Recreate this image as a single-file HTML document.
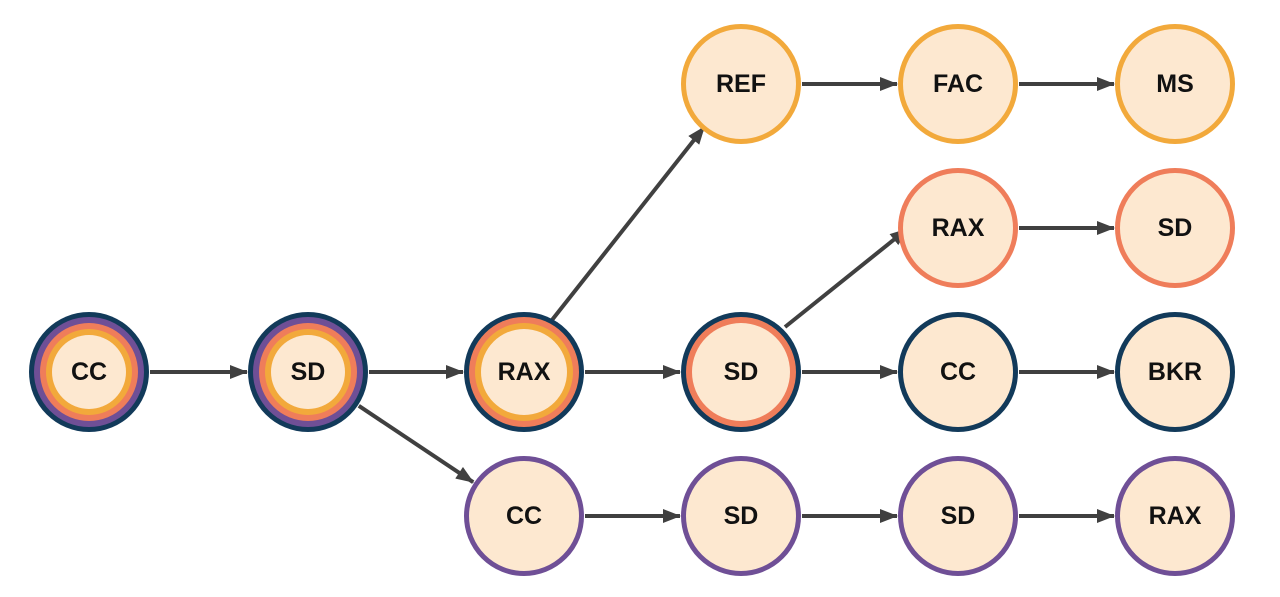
<!DOCTYPE html>
<html><head><meta charset="utf-8"><style>
html,body{margin:0;padding:0;background:#fff;width:1280px;height:597px;overflow:hidden}
text{font-family:"Liberation Sans",sans-serif;font-weight:bold;font-size:25px;fill:#111;text-anchor:middle;dominant-baseline:central}
</style></head><body>
<svg width="1280" height="597" viewBox="0 0 1280 597" xmlns="http://www.w3.org/2000/svg">
<defs>
<marker id="a" markerUnits="userSpaceOnUse" markerWidth="18" markerHeight="14" refX="17" refY="7" orient="auto">
<path d="M0,0 L18,7 L0,14 Z" fill="#404040"/>
</marker>
</defs>
<g stroke="#404040" stroke-width="4" marker-end="url(#a)">
<line x1="150" y1="372" x2="247" y2="372"/>
<line x1="369" y1="372" x2="463" y2="372"/>
<line x1="585" y1="372" x2="680" y2="372"/>
<line x1="802" y1="372" x2="897" y2="372"/>
<line x1="1019" y1="372" x2="1114" y2="372"/>
<line x1="802" y1="84" x2="897" y2="84"/>
<line x1="1019" y1="84" x2="1114" y2="84"/>
<line x1="1019" y1="228" x2="1114" y2="228"/>
<line x1="585" y1="516" x2="680" y2="516"/>
<line x1="802" y1="516" x2="897" y2="516"/>
<line x1="1019" y1="516" x2="1114" y2="516"/>
<line x1="358.8" y1="405.8" x2="473.2" y2="482.2"/>
<line x1="552" y1="320" x2="704.3" y2="127"/>
<line x1="785" y1="327" x2="907.2" y2="229"/>
</g>
<!-- multi ring nodes -->
<g>
<circle cx="89" cy="372" r="60" fill="#123a5a"/>
<circle cx="89" cy="372" r="55" fill="#6f4f96"/>
<circle cx="89" cy="372" r="49" fill="#ef7d5a"/>
<circle cx="89" cy="372" r="43" fill="#f2a93b"/>
<circle cx="89" cy="372" r="37" fill="#fde8d0"/>
<text x="89" y="372">CC</text>
<circle cx="308" cy="372" r="60" fill="#123a5a"/>
<circle cx="308" cy="372" r="55" fill="#6f4f96"/>
<circle cx="308" cy="372" r="49" fill="#ef7d5a"/>
<circle cx="308" cy="372" r="43" fill="#f2a93b"/>
<circle cx="308" cy="372" r="37" fill="#fde8d0"/>
<text x="308" y="372">SD</text>
<circle cx="524" cy="372" r="60" fill="#123a5a"/>
<circle cx="524" cy="372" r="55" fill="#ef7d5a"/>
<circle cx="524" cy="372" r="49" fill="#f2a93b"/>
<circle cx="524" cy="372" r="43" fill="#fde8d0"/>
<text x="524" y="372">RAX</text>
<circle cx="741" cy="372" r="60" fill="#123a5a"/>
<circle cx="741" cy="372" r="55" fill="#ef7d5a"/>
<circle cx="741" cy="372" r="49" fill="#fde8d0"/>
<text x="741" y="372">SD</text>
</g>
<g fill="#fde8d0" stroke-width="5">
<circle cx="741" cy="84" r="57.5" stroke="#f2a93b"/>
<circle cx="958" cy="84" r="57.5" stroke="#f2a93b"/>
<circle cx="1175" cy="84" r="57.5" stroke="#f2a93b"/>
<circle cx="958" cy="228" r="57.5" stroke="#ef7d5a"/>
<circle cx="1175" cy="228" r="57.5" stroke="#ef7d5a"/>
<circle cx="958" cy="372" r="57.5" stroke="#123a5a"/>
<circle cx="1175" cy="372" r="57.5" stroke="#123a5a"/>
<circle cx="524" cy="516" r="57.5" stroke="#6f4f96"/>
<circle cx="741" cy="516" r="57.5" stroke="#6f4f96"/>
<circle cx="958" cy="516" r="57.5" stroke="#6f4f96"/>
<circle cx="1175" cy="516" r="57.5" stroke="#6f4f96"/>
</g>
<text x="741" y="84">REF</text>
<text x="958" y="84">FAC</text>
<text x="1175" y="84">MS</text>
<text x="958" y="228">RAX</text>
<text x="1175" y="228">SD</text>
<text x="958" y="372">CC</text>
<text x="1175" y="372">BKR</text>
<text x="524" y="516">CC</text>
<text x="741" y="516">SD</text>
<text x="958" y="516">SD</text>
<text x="1175" y="516">RAX</text>
</svg>
</body></html>
